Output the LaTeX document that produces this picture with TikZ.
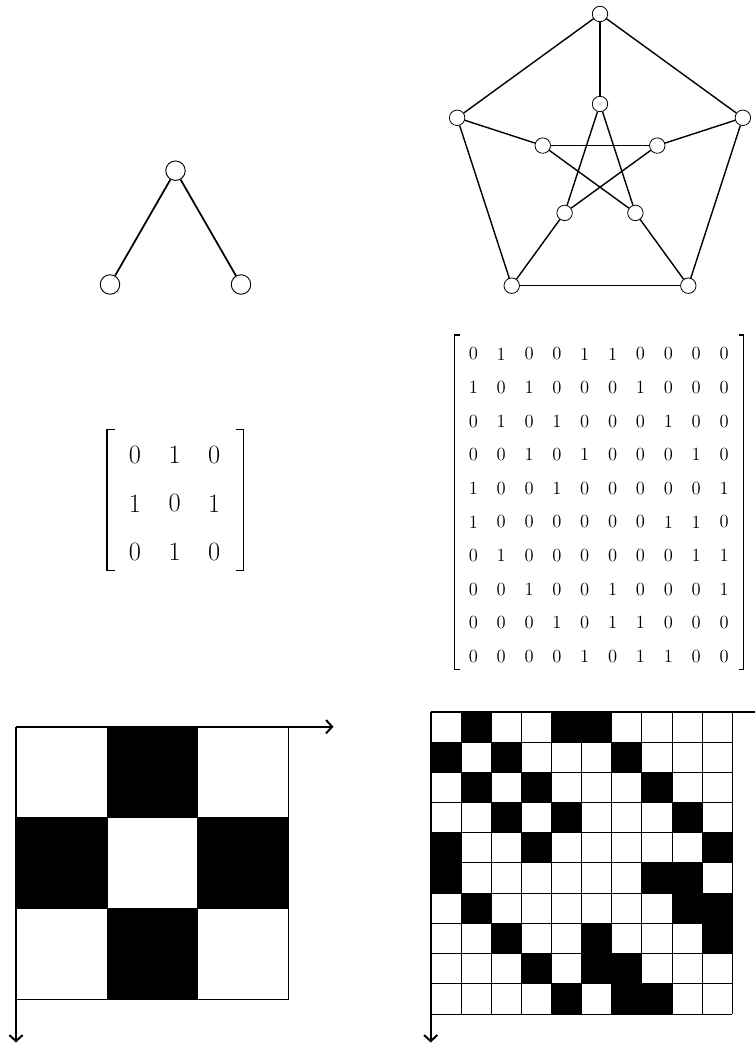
\documentclass[tikz,border=0pt]{standalone}
\usepackage{fontspec}
\usetikzlibrary{arrows.meta}
\begin{document}
\begin{tikzpicture}[x=0.75pt,y=-0.75pt,
  pv/.style={circle,draw,fill=white,inner sep=0pt,minimum size=11.6pt,line width=0.6pt},
  sv/.style={circle,draw,fill=white,inner sep=0pt,minimum size=14.6pt,line width=0.7pt},
  pedge/.style={line width=1.05pt},
  sedge/.style={line width=1.3pt},
  axis/.style={line width=1.5pt,-{Straight Barb[length=4.6pt,width=10pt,line width=1.5pt]}},
  gline/.style={line width=0.55pt},
  bigent/.style={inner sep=0pt,font=\fontsize{13.9}{16}\selectfont},
  smallent/.style={inner sep=0pt,font=\fontsize{19.8}{24}\selectfont},
  bigbrk/.style={line width=0.8pt},
  smallbrk/.style={line width=1.1pt}]
\useasboundingbox (0,0) rectangle (754,1044);

% ---------- small graph ----------
\node[sv] (a1) at (175.5,170.7) {};
\node[sv] (a2) at (110,284.5) {};
\node[sv] (a3) at (241,284.5) {};
\draw[sedge] (a1) -- (a2);
\draw[sedge] (a1) -- (a3);

% ---------- Petersen graph ----------
\node[pv] (o1) at (600,14.0) {};
\node[pv] (o2) at (457.14,117.79) {};
\node[pv] (o3) at (511.71,285.71) {};
\node[pv] (o4) at (688.29,285.71) {};
\node[pv] (o5) at (742.86,117.79) {};
\node[pv] (i1) at (600,104.0) {};
\node[pv] (i2) at (542.74,145.60) {};
\node[pv] (i3) at (564.61,212.90) {};
\node[pv] (i4) at (635.39,212.90) {};
\node[pv] (i5) at (657.26,145.60) {};
\draw[pedge] (o1) -- (o2);
\draw[pedge] (o2) -- (o3);
\draw[pedge] (o3) -- (o4);
\draw[pedge] (o4) -- (o5);
\draw[pedge] (o5) -- (o1);
\draw[pedge] (o1) -- (i1);
\draw[pedge] (o2) -- (i2);
\draw[pedge] (o3) -- (i3);
\draw[pedge] (o4) -- (i4);
\draw[pedge] (o5) -- (i5);
\draw[pedge] (i1) -- (i3);
\draw[pedge] (i3) -- (i5);
\draw[pedge] (i5) -- (i2);
\draw[pedge] (i2) -- (i4);
\draw[pedge] (i4) -- (i1);

% ---------- small matrix ----------
\foreach \row [count=\i from 0] in {{0,1,0},{1,0,1},{0,1,0}} {
  \foreach \v [count=\j from 0] in \row {
    \node[smallent] (s-\i-\j) at ({135+39.65*\j},{455+48.35*\i}) {\v};
  }
}
\draw[smallbrk] (115,429.5) -- (107,429.5) -- (107,570.7) -- (115,570.7);
\draw[smallbrk] (235.5,429.5) -- (243.3,429.5) -- (243.3,570.7) -- (235.5,570.7);

% ---------- big matrix ----------
\foreach \row [count=\i from 0] in {
  {0,1,0,0,1,1,0,0,0,0},
  {1,0,1,0,0,0,1,0,0,0},
  {0,1,0,1,0,0,0,1,0,0},
  {0,0,1,0,1,0,0,0,1,0},
  {1,0,0,1,0,0,0,0,0,1},
  {1,0,0,0,0,0,0,1,1,0},
  {0,1,0,0,0,0,0,0,1,1},
  {0,0,1,0,0,1,0,0,0,1},
  {0,0,0,1,0,1,1,0,0,0},
  {0,0,0,0,1,0,1,1,0,0}} {
  \foreach \v [count=\j from 0] in \row {
    \node[bigent] (b-\i-\j) at ({473.3+27.87*\j},{354+33.6*\i}) {\v};
  }
}
\draw[bigbrk] (459.5,335) -- (454.5,335) -- (454.5,669.3) -- (459.5,669.3);
\draw[bigbrk] (738.5,335) -- (743.5,335) -- (743.5,669.3) -- (738.5,669.3);

% ---------- small grid ----------
\foreach \row [count=\i from 0] in {{0,1,0},{1,0,1},{0,1,0}} {
  \foreach \v [count=\j from 0] in \row {
    \ifnum\v=1 \fill[black] ({16+90.9*\j},{726.7+90.9*\i}) rectangle ++(90.9,90.9); \fi
  }
}
\foreach \k in {0,...,3} {
  \draw[gline] ({16+90.9*\k},726.7) -- ++(0,272.7);
  \draw[gline] (16,{726.7+90.9*\k}) -- ++(272.7,0);
}
\coordinate (L0) at (16,726.7);
\coordinate (LX) at (333.5,726.7);
\coordinate (LY) at (16,1042.5);
\draw[axis] (L0) -- (LX);
\draw[axis] (L0) -- (LY);

% ---------- big grid ----------
\foreach \row [count=\i from 0] in {
  {0,1,0,0,1,1,0,0,0,0},
  {1,0,1,0,0,0,1,0,0,0},
  {0,1,0,1,0,0,0,1,0,0},
  {0,0,1,0,1,0,0,0,1,0},
  {1,0,0,1,0,0,0,0,0,1},
  {1,0,0,0,0,0,0,1,1,0},
  {0,1,0,0,0,0,0,0,1,1},
  {0,0,1,0,0,1,0,0,0,1},
  {0,0,0,1,0,1,1,0,0,0},
  {0,0,0,0,1,0,1,1,0,0}} {
  \foreach \v [count=\j from 0] in \row {
    \ifnum\v=1 \fill[black] ({430.7+30.16*\j},{711.7+30.23*\i}) rectangle ++(30.16,30.23); \fi
  }
}
\foreach \k in {0,...,10} {
  \draw[gline] ({430.7+30.16*\k},711.7) -- ++(0,302.3);
  \draw[gline] (430.7,{711.7+30.23*\k}) -- ++(301.6,0);
}
\coordinate (R0) at (430.7,711.7);
\coordinate (RX) at (775,711.7);
\coordinate (RY) at (430.7,1042.5);
\draw[axis] (R0) -- (RX);
\draw[axis] (R0) -- (RY);
\end{tikzpicture}
\end{document}
